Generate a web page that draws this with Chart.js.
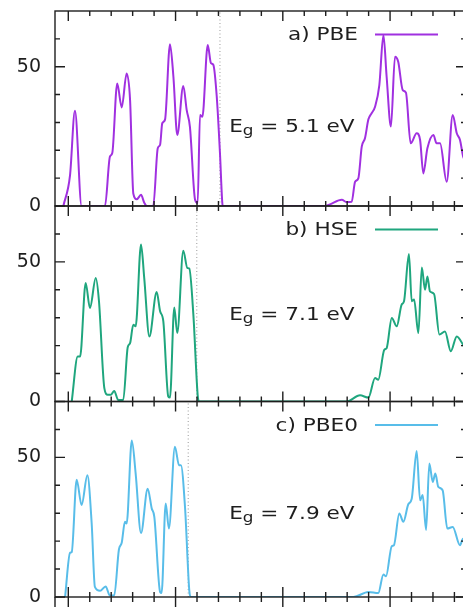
<!DOCTYPE html>
<html>
<head>
<meta charset="utf-8">
<script src="https://cdn.jsdelivr.net/npm/chart.js@4.4.0/dist/chart.umd.min.js"></script>
<style>
  html, body { margin: 0; padding: 0; overflow: hidden; background: #fff; width: 463px; height: 607px; }
  canvas { position: absolute; left: 0; top: 0; }
</style>
</head>
<body>
<canvas id="pbeChart" width="470" height="607"></canvas>
<canvas id="hseChart" width="470" height="607"></canvas>
<canvas id="pbe0Chart" width="470" height="607"></canvas>
<script>
// energy (eV) and DOS
const pbeEnergy = [
  -10.23, -9.92, -9.69, -9.38, -8.29, -8.06, -7.95, -7.72, -7.51, -7.28, -7.12, -6.97, -6.81,
  -6.61, -6.46, -6.34, -6.04, -5.83, -5.72, -5.62, -5.49, -5.26, -5.10, -4.92, -4.64, -4.48,
  -4.33, -4.09, -3.97, -3.86, -3.75, -3.50, -3.35, -3.24, -3.08, -2.93, -2.82, -2.79,
  1.97, 2.20, 2.75, 2.98, 3.21, 3.37, 3.52, 3.68, 3.83, 3.99, 4.14, 4.30, 4.50, 4.69, 4.84,
  5.04, 5.23, 5.38, 5.59, 5.74, 5.96, 6.24, 6.40, 6.55, 6.74, 7.02, 7.17, 7.33, 7.64, 7.92,
  8.11, 8.26, 8.41, 8.60,
];
const pbeDos = [
  0, 11, 34.2, 0, 0, 17.7, 19, 44, 35.4, 47.6, 38, 4.5, 2.4,
  4, 1.2, 0, 0, 20.7, 22, 29.7, 31, 58.1, 46.4, 25.5, 43.1, 34.4,
  28.4, 2.2, 1, 32.7, 32, 57.8, 51.3, 50.7, 39.3, 19, 1, 0,
  0, 0.6, 2.2, 1.4, 1.5, 8.7, 9.9, 21.3, 24.3, 31.1, 33.3, 35.6, 43.4, 61.4, 46.4,
  28.5, 53.6, 51.8, 41.6, 40.7, 22.5, 26.1, 23.7, 11.7, 20.7, 25.5, 22.5, 22.5, 8.7, 32.7,
  26.1, 23.7, 17.7, 15,
];

const hseEnergy = [
  -9.84, -9.56, -9.45, -9.19, -8.99, -8.72, -8.57, -8.32, -8.16, -8.01, -7.86, -7.67, -7.44,
  -7.23, -7.12, -6.97, -6.86, -6.61, -6.46, -6.22, -5.88, -5.72, -5.57, -5.34, -5.26, -5.06,
  -4.92, -4.64, -4.45, -4.36, -4.17, -3.97, -3.91,
  2.00, 2.98, 3.60, 3.99, 4.30, 4.45, 4.73, 4.84, 5.08, 5.31, 5.54, 5.65, 5.88, 6.01, 6.12,
  6.32, 6.48, 6.63, 6.74, 6.86, 7.05, 7.30, 7.56, 7.83, 8.11, 8.40, 8.60,
];
const hseDos = [
  0, 16.1, 16.1, 42.4, 33.5, 44.2, 35.9, 4.8, 2.4, 2.4, 3.8, 0.5, 0.5,
  19.4, 20.9, 27.5, 26.9, 56.2, 44.2, 23.3, 39.2, 32.3, 28.7, 1.8, 1.4, 33.7,
  24.5, 54, 47.8, 47.6, 31.1, 2.4, 0,
  0, 0, 2.2, 1.4, 8.4, 7.8, 18.5, 19.1, 29.9, 26.9, 34.7, 35.9, 52.8, 35.9, 36.5,
  24.5, 48, 40, 44.8, 39.4, 38.5, 24, 25.1, 18, 23.3, 20.3, 17,
];

const pbe0Energy = [
  -10.15, -9.92, -9.84, -9.61, -9.38, -9.11, -8.91, -8.76, -8.52, -8.26, -8.06, -7.86, -7.64,
  -7.51, -7.36, -7.28, -7.04, -6.86, -6.61, -6.30, -6.11, -5.99, -5.72, -5.65, -5.46, -5.31,
  -5.03, -4.84, -4.75, -4.56, -4.36, -4.29,
  2.00, 3.29, 3.99, 4.45, 4.69, 4.81, 5.08, 5.18, 5.43, 5.62, 5.85, 6.01, 6.24, 6.40, 6.52,
  6.68, 6.83, 6.99, 7.11, 7.25, 7.45, 7.67, 7.92, 8.26, 8.40, 8.60,
];
const pbe0Dos = [
  0, 15.8, 16.1, 42, 32.9, 43.6, 26.3, 3.6, 2.2, 3.8, 0.5, 0.5, 17,
  19.4, 26.9, 26.3, 56, 44.2, 22.9, 38.8, 31.7, 28.7, 1.8, 1.4, 33.5, 24.5,
  53.8, 47.2, 47.2, 32.3, 2.4, 0,
  0, 0, 1.8, 1.4, 8.1, 7.4, 18.2, 18.5, 29.9, 26.9, 33.2, 35.2, 52.3, 34.6, 36.5,
  24, 47.8, 41.2, 44.2, 39.4, 38.2, 24.5, 25.1, 18.5, 20.9, 18,
];

const panelNames = ["a) PBE", "b) HSE", "c) PBE0"];
const gapValues = ["5.1", "7.1", "7.9"];
const vbmEnergy = [-2.93, -4.01, -4.41];

const xMajorTicks = [-10, -5, 0, 5];
const xMinorTicks = [-10, -9, -8, -7, -6, -5, -4, -3, -2, -1, 0, 1, 2, 3, 4, 5, 6, 7, 8];
const yMajorTicks = [0, 50];
const yMinorTicks = [10, 20, 30, 40, 60];
const yTickLabels = [0, 50];

const FONT = "DejaVu Sans";
const SX = 1.2; // text in the picture is a bit wider than the font

function wideText(ctx, str, x, y, align) {
  ctx.save();
  ctx.translate(x, y);
  ctx.scale(SX, 1);
  ctx.textAlign = align;
  ctx.fillText(str, 0, 0);
  ctx.restore();
  return ctx.measureText(str).width * SX;
}

// border, inward ticks, key and gap label
const frame = {
  id: "frame",
  afterDatasetsDraw(chart, args, opts) {
    const { ctx, chartArea: a } = chart;
    const x = chart.scales.x, y = chart.scales.y;
    ctx.save();
    ctx.strokeStyle = "#1e1e1e";
    ctx.lineWidth = 1.4;
    ctx.beginPath();
    xMinorTicks.forEach((v) => {
      const px = x.getPixelForValue(v);
      const len = xMajorTicks.includes(v) ? 10 : 5;
      ctx.moveTo(px, a.top); ctx.lineTo(px, a.top + len);
      ctx.moveTo(px, a.bottom); ctx.lineTo(px, a.bottom - len);
      if (opts.below) { ctx.moveTo(px, a.bottom); ctx.lineTo(px, a.bottom + len); }
    });
    yMajorTicks.concat(yMinorTicks).forEach((v) => {
      const py = y.getPixelForValue(v);
      const len = yMajorTicks.includes(v) ? 10 : 5;
      ctx.moveTo(a.left, py); ctx.lineTo(a.left + len, py);
      ctx.moveTo(a.right, py); ctx.lineTo(a.right - len, py);
    });
    if (opts.below) {
      ctx.moveTo(a.left, a.bottom); ctx.lineTo(a.left, chart.height);
      ctx.moveTo(a.right, a.bottom); ctx.lineTo(a.right, chart.height);
    }
    ctx.stroke();
    ctx.strokeRect(a.left, a.top, a.right - a.left, a.bottom - a.top);

    // key
    ctx.fillStyle = "#1e1e1e";
    ctx.font = "18px '" + FONT + "'";
    ctx.textBaseline = "middle";
    const ky = a.top + 23.5;
    wideText(ctx, opts.name, a.right - 108, ky + 1, "right");
    ctx.strokeStyle = opts.color;
    ctx.lineWidth = 2;
    ctx.beginPath();
    ctx.moveTo(a.right - 91, ky); ctx.lineTo(a.right - 28, ky);
    ctx.stroke();

    // E_g label
    ctx.textBaseline = "alphabetic";
    let gx = x.getPixelForValue(-2.5);
    const gy = y.getPixelForValue(opts.gapY) + 6.6;
    ctx.font = "18px '" + FONT + "'";
    gx += wideText(ctx, "E", gx, gy, "left");
    ctx.font = "14px '" + FONT + "'";
    gx += wideText(ctx, "g", gx, gy + 3, "left");
    ctx.font = "18px '" + FONT + "'";
    wideText(ctx, " = " + opts.gap + " eV", gx, gy, "left");
    ctx.restore();
  },
};

function makePanel(id, energy, dos, color, idx, top, bottom) {
  const points = energy.map((e, i) => ({ x: e, y: dos[i] }));
  new Chart(document.getElementById(id), {
    type: "line",
    data: {
      datasets: [
        {
          data: points,
          borderColor: color,
          borderWidth: 2,
          pointRadius: 0,
          cubicInterpolationMode: "monotone",
        },
        {
          data: [{ x: vbmEnergy[idx], y: 0 }, { x: vbmEnergy[idx], y: 70 }],
          borderColor: "#9a9a9a",
          borderWidth: 1,
          borderDash: [1, 2.5],
          pointRadius: 0,
        },
      ],
    },
    options: {
      responsive: false,
      animation: false,
      layout: { padding: { left: 0, right: 4, top: top, bottom: 607 - bottom } },
      scales: {
        x: { type: "linear", display: false, min: -10.62, max: 8.54 },
        y: {
          min: 0,
          max: 70,
          grid: { display: false, drawTicks: false },
          border: { display: false },
          ticks: {
            stepSize: 10,
            autoSkip: false,
            padding: 14,
            color: "#1e1e1e",
            font: { family: FONT, size: 19 },
            callback: (v) => (yTickLabels.includes(v) ? String(v) : ""),
          },
          afterFit: (s) => { s.width = 55; s.paddingTop = 0; s.paddingBottom = 0; },
        },
      },
      plugins: {
        legend: { display: false },
        tooltip: { enabled: false },
        frame: {
          name: panelNames[idx],
          gap: gapValues[idx],
          gapY: [29, 31.4, 30.4][idx],
          color: color,
          below: idx === 2,
        },
      },
    },
    plugins: [frame],
  });
}

makePanel("pbeChart", pbeEnergy, pbeDos, "#a030e0", 0, 11, 206);
makePanel("hseChart", hseEnergy, hseDos, "#1fa67e", 1, 206, 401.5);
makePanel("pbe0Chart", pbe0Energy, pbe0Dos, "#58bde9", 2, 401.5, 597);
</script>
</body>
</html>
